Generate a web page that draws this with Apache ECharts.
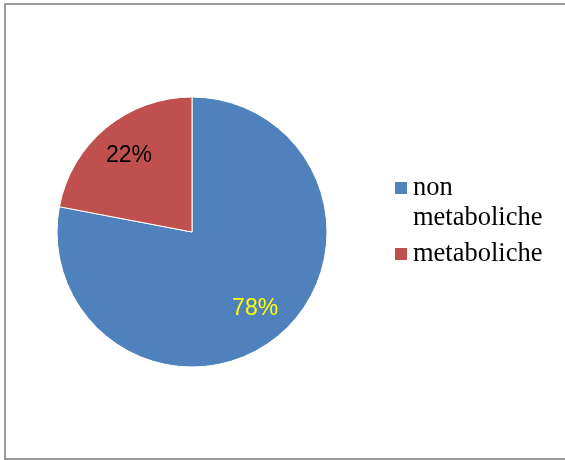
<!DOCTYPE html>
<html>
<head>
<meta charset="utf-8">
<script src="https://cdn.jsdelivr.net/npm/echarts@6/dist/echarts.min.js"></script>
<style>
  html, body { margin: 0; padding: 0; background: #fff; }
  #chart { width: 565px; height: 460px; }
</style>
</head>
<body>
<div id="chart"></div>
<script>
// Share of cases by category
const categories = ['non metaboliche', 'metaboliche'];
const values = [78, 22];
const sliceColors = ['#4F81BD', '#C0504D'];
const labelColors = ['#FFFF00', '#000000'];

const chart = echarts.init(document.getElementById('chart'), null, { renderer: 'canvas' });

const sliceData = categories.map((name, i) => ({ name, value: values[i] }));
const labelData = categories.map((name, i) => ({
  name,
  value: values[i],
  label: { color: labelColors[i] }
}));

chart.setOption({
  backgroundColor: '#ffffff',
  animation: false,
  color: sliceColors,
  graphic: [{
    type: 'rect',
    shape: { x: 5, y: 4, width: 600, height: 455 },
    style: { fill: 'none', stroke: '#9a9a9a', lineWidth: 2 },
    silent: true,
    z: -10
  }],
  legend: {
    orient: 'vertical',
    left: 393,
    top: 143,
    padding: 0,
    itemWidth: 14,
    itemHeight: 14,
    itemGap: 6,
    icon: 'rect',
    data: categories,
    formatter: name => name === 'non metaboliche' ? ' \nnon\nmetaboliche' : name,
    textStyle: {
      fontFamily: 'Liberation Serif',
      fontSize: 26.5,
      lineHeight: 30,
      color: '#000'
    }
  },
  series: [
    {
      name: 'slices',
      type: 'pie',
      center: [192, 232],
      radius: [0, 135],
      startAngle: 90,
      clockwise: true,
      label: { show: false },
      labelLine: { show: false },
      itemStyle: { borderColor: '#ffffff', borderWidth: 1 },
      emphasis: { disabled: true },
      data: sliceData
    },
    {
      name: 'percent',
      type: 'pie',
      center: [192, 232],
      radius: [57, 135],
      startAngle: 90,
      clockwise: true,
      silent: true,
      itemStyle: { color: 'transparent' },
      label: {
        show: true,
        position: 'inside',
        formatter: '{d}%',
        fontFamily: 'Liberation Sans',
        fontSize: 23
      },
      labelLine: { show: false },
      emphasis: { disabled: true },
      data: labelData
    }
  ]
});
</script>
</body>
</html>
